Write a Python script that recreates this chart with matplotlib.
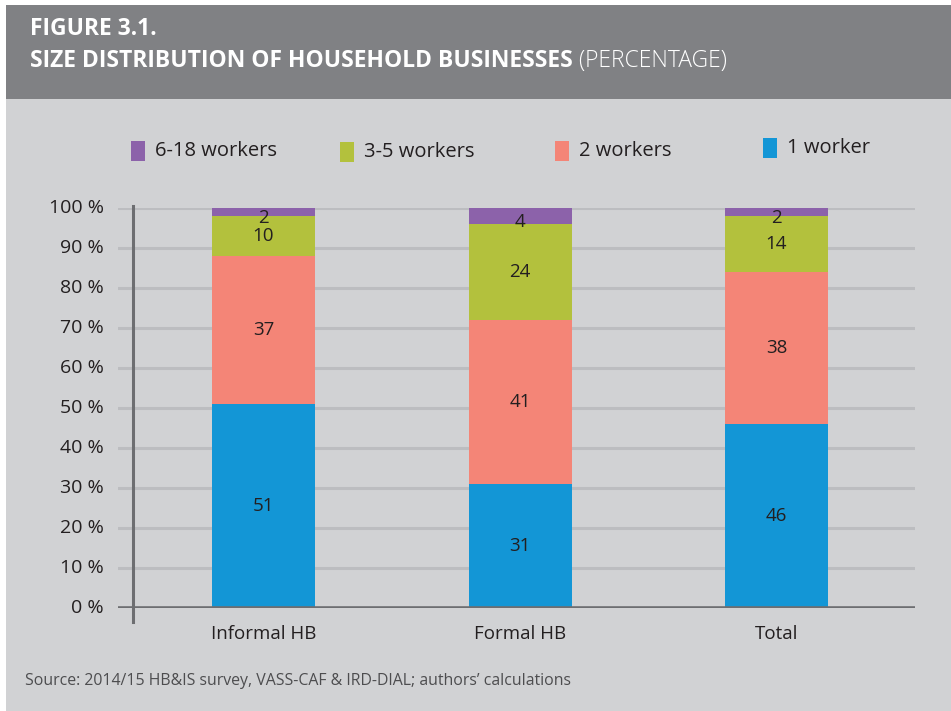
import matplotlib
matplotlib.use("Agg")
import matplotlib.pyplot as plt
from matplotlib.patches import Rectangle

# ---- data ----
categories = ["Informal HB", "Formal HB", "Total"]
series_names = ["1 worker", "2 workers", "3-5 workers", "6-18 workers"]
one_worker = [51, 31, 46]
two_workers = [37, 41, 38]
three_five = [10, 24, 14]
six_eighteen = [2, 4, 2]
yticks = [0, 10, 20, 30, 40, 50, 60, 70, 80, 90, 100]
ytick_labels = ["0 %", "10 %", "20 %", "30 %", "40 %", "50 %", "60 %", "70 %", "80 %", "90 %", "100 %"]

title1 = "FIGURE 3.1."
title2 = "SIZE DISTRIBUTION OF HOUSEHOLD BUSINESSES"
title3 = " (PERCENTAGE)"
source = "Source: 2014/15 HB&IS survey, VASS-CAF & IRD-DIAL; authors\u2019 calculations"

colors = ["#1396d6", "#f48577", "#b3c13d", "#8c62aa"]
HEADER = "#808184"
BODY = "#d1d2d4"
GRID = "#bcbdc0"
AXIS = "#6d6e71"
TXT = "#231f20"

FONT = "Open Sans"
plt.rcParams["font.family"] = [FONT, "DejaVu Sans"]

W, H = 951, 711
fig = plt.figure(figsize=(W / 100, H / 100), dpi=100)
fig.patch.set_facecolor("white")

def fx(px):
    return px / W

def fy(py):
    return 1 - py / H

# background panels
fig.add_artist(Rectangle((fx(6), fy(711)), 1, fy(99) - fy(711), transform=fig.transFigure,
                         facecolor=BODY, edgecolor="none", zorder=0))
fig.add_artist(Rectangle((fx(6), fy(99)), 1, fy(5) - fy(99), transform=fig.transFigure,
                         facecolor=HEADER, edgecolor="none", zorder=0))

# title
fig.text(fx(30), fy(29), title1, color="white", fontsize=16.5, fontweight="bold", va="center", ha="left")
t2 = fig.text(fx(30), fy(61), title2, color="white", fontsize=16.5, fontweight="bold", va="center", ha="left")
fig.canvas.draw()
bb = t2.get_window_extent()
fig.text(bb.x1 / W, fy(61), title3, color="white", fontsize=16.5, fontweight="light", va="center", ha="left")

# axes
ax = fig.add_axes([fx(118), fy(608), fx(915) - fx(118), fy(208) - fy(608)])
ax.set_facecolor("none")
centers = [0, 1, 2]
px_per_unit = 256.5
ax.set_xlim(-(263.5 - 118) / px_per_unit, 2 + (915 - 776.5) / px_per_unit)
ax.set_ylim(0, 100)
for s in ax.spines.values():
    s.set_visible(False)
ax.set_xticks([])
ax.set_yticks([])

for v in yticks[1:]:
    ax.axhline(v, color=GRID, lw=2.2, zorder=1)
ax.axhline(0, color=AXIS, lw=2.6, zorder=4)
spine_x = -(263.5 - 133) / px_per_unit
ax.plot([spine_x, spine_x], [-3.5, 100.5], color=AXIS, lw=2.2, clip_on=False, zorder=4)

for v, lab in zip(yticks, ytick_labels):
    ax.text(-(263.5 - 104) / px_per_unit, v, lab, ha="right", va="center", fontsize=14, color=TXT)

bw = 103 / px_per_unit
series = [one_worker, two_workers, three_five, six_eighteen]
bottoms = [0, 0, 0]
for k, (vals, col) in enumerate(zip(series, colors)):
    ax.bar(centers, vals, bw, bottom=bottoms, color=col, zorder=3)
    for c, v, b in zip(centers, vals, bottoms):
        yc = b + v / 2
        if k == len(series) - 1:
            yc -= 1.5
        ax.text(c, yc, str(v), ha="center", va="center", fontsize=13.5, color=TXT, zorder=5)
    bottoms = [b + v for b, v in zip(bottoms, vals)]

for c, lab in zip(centers, categories):
    ax.text(c, -6.5, lab, ha="center", va="center", fontsize=13.5, color=TXT)

# legend (order as in reference)
legend_items = [(3, 131, 151), (2, 340, 152), (1, 555, 151), (0, 763, 148)]
for idx, x0, yc in legend_items:
    fig.add_artist(Rectangle((fx(x0), fy(yc + 10)), fx(14), fy(yc - 10) - fy(yc + 10),
                             transform=fig.transFigure, facecolor=colors[idx], edgecolor="none"))
    fig.text(fx(x0 + 24), fy(yc), series_names[idx], ha="left", va="center", fontsize=14.5, color=TXT)

fig.text(fx(25), fy(681), source, ha="left", va="center", fontsize=11.4, color="#4d4d4f")

fig.savefig("out.png", dpi=100, facecolor=fig.get_facecolor())
